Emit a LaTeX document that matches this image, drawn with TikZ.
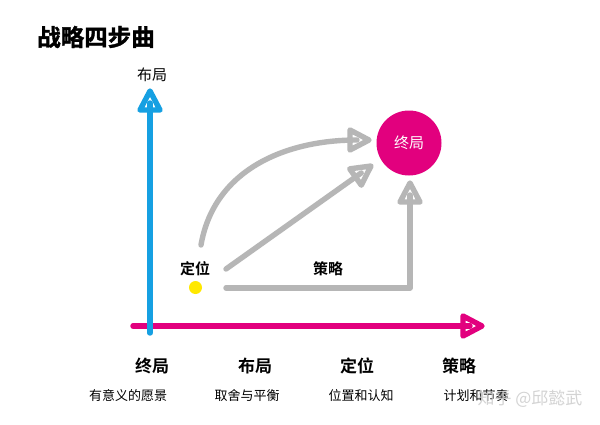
\documentclass[tikz,border=0pt]{standalone}
\usepackage{fontspec}
\newfontfamily\cjk{Noto Sans CJK SC}[BoldFont={* Bold}]
\newfontfamily\cjkheavy{Noto Sans CJK SC}[UprightFont={* Bold},FakeBold=1.6]
\definecolor{axblue}{RGB}{22,160,226}
\definecolor{axmag}{RGB}{226,0,126}
\definecolor{lgray}{RGB}{182,182,182}
\definecolor{dotyel}{RGB}{255,232,0}
\tikzset{
  ahead/.pic={\draw[line width=5.4pt,line join=round] (0,0) -- (-19,10) -- (-19,-10) -- cycle;},
  shaft/.style={line width=5.4pt,line cap=round,shorten >=12pt},
  graypath/.style={shaft,draw=lgray},
  lbl/.style={font=\cjk\fontsize{15}{15}\selectfont,inner sep=0pt},
  midlbl/.style={font=\cjk\bfseries\fontsize{15}{15}\selectfont,inner sep=0pt},
  biglbl/.style={font=\cjk\bfseries\fontsize{17}{17}\selectfont,inner sep=0pt},
  sublbl/.style={font=\cjk\fontsize{13}{13}\selectfont,inner sep=0pt},
}
\begin{document}
\begin{tikzpicture}[x=1pt,y=-1pt]
\useasboundingbox[fill=white] (0,0) rectangle (600,424);
% title
\node[font=\cjkheavy\fontsize{23.5}{23.5}\selectfont,inner sep=0pt,anchor=west] (title) at (37,37) {战略四步曲};
% axes
\coordinate (ybot) at (150,333);
\coordinate (ytop) at (150,91);
\coordinate (xl) at (133,326);
\coordinate (xr) at (482,326);
\draw[shaft,draw=axmag] (xl) -- (xr);
\pic[color=axmag] at (xr) {ahead};
\draw[shaft,draw=axblue] (ybot) -- (ytop);
\pic[color=axblue,rotate=90] at (ytop) {ahead};
\node[lbl] (ylab) at (152,75) {布局};
% end circle
\node[circle,fill=axmag,minimum size=65pt,inner sep=0pt,text=white,font=\cjk\fontsize{15}{15}\selectfont] (end) at (409,143) {终局};
% dot
\node[circle,fill=dotyel,minimum size=13pt,inner sep=0pt] (dot) at (195.5,287.5) {};
\node[midlbl] (pos) at (195,269) {定位};
\node[midlbl] (strat) at (328,269) {策略};
% gray arrows
\coordinate (c1s) at (201,245);
\coordinate (c1e) at (369,140);
\draw[graypath] (c1s) .. controls (214,170) and (285,140) .. (c1e);
\pic[color=lgray] at (c1e) {ahead};
\coordinate (c2s) at (226,269);
\coordinate (c2e) at (371,166);
\draw[graypath] (c2s) -- (c2e);
\pic[color=lgray,rotate=35.4] at (c2e) {ahead};
\coordinate (c3s) at (226,288);
\coordinate (c3m) at (410,288);
\coordinate (c3e) at (410,183);
\draw[graypath,line join=round] (c3s) -- (c3m) -- (c3e);
\pic[color=lgray,rotate=90] at (c3e) {ahead};
% bottom labels
\node[biglbl] (b1) at (152,366) {终局};
\node[biglbl] (b2) at (255,366) {布局};
\node[biglbl] (b3) at (357,366) {定位};
\node[biglbl] (b4) at (459,366) {策略};
\node[sublbl] (s1) at (128,396) {有意义的愿景};
\node[sublbl] (s2) at (247,396) {取舍与平衡};
\node[sublbl] (s3) at (361,396) {位置和认知};
\node[sublbl] (s4) at (476,396) {计划和节奏};
\node[font=\cjk\fontsize{17}{17}\selectfont,inner sep=0pt,text=gray!40,opacity=0.85] (wm) at (530,399) {知乎 @邱懿武};
\end{tikzpicture}
\end{document}
